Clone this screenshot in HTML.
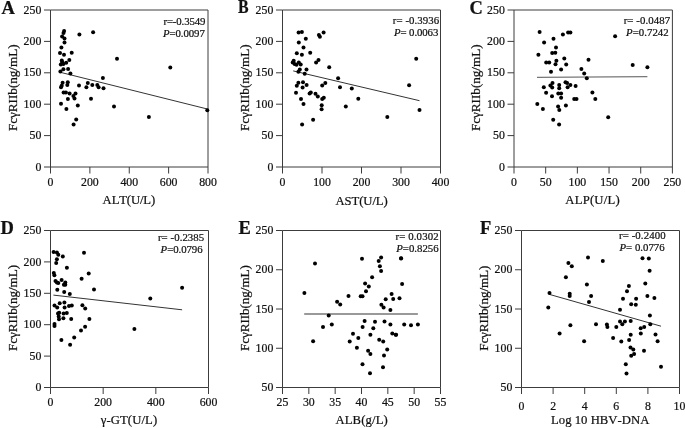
<!DOCTYPE html>
<html><head><meta charset="utf-8"><style>
html,body{margin:0;padding:0;background:#fff;width:685px;height:428px;overflow:hidden}
svg{display:block;will-change:transform}
text{font-family:"Liberation Serif", serif;fill:#111;stroke:#111;stroke-width:0.22px;font-kerning:none}
</style></head><body>
<svg width="685" height="428" viewBox="0 0 685 428">
<path d="M50.5 10H208V167" fill="none" stroke="#3c3c3c" stroke-width="1.0"/>
<path d="M50.5 10V167H208" fill="none" stroke="#3c3c3c" stroke-width="1.0"/>
<path d="M44 167H50.5M44 135.6H50.5M44 104.2H50.5M44 72.8H50.5M44 41.4H50.5M44 10H50.5M50.5 167V173.5M89.88 167V173.5M129.25 167V173.5M168.62 167V173.5M208 167V173.5" stroke="#3c3c3c" stroke-width="1.0"/>
<text x="41.3" y="170.6" text-anchor="end" font-size="11.8">0</text>
<text x="41.3" y="139.2" text-anchor="end" font-size="11.8">50</text>
<text x="41.3" y="107.8" text-anchor="end" font-size="11.8">100</text>
<text x="41.3" y="76.4" text-anchor="end" font-size="11.8">150</text>
<text x="41.3" y="45" text-anchor="end" font-size="11.8">200</text>
<text x="41.3" y="13.6" text-anchor="end" font-size="11.8">250</text>
<text x="50.5" y="186" text-anchor="middle" font-size="11.8">0</text>
<text x="89.88" y="186" text-anchor="middle" font-size="11.8">200</text>
<text x="129.25" y="186" text-anchor="middle" font-size="11.8">400</text>
<text x="168.62" y="186" text-anchor="middle" font-size="11.8">600</text>
<text x="208" y="186" text-anchor="middle" font-size="11.8">800</text>
<text x="1.5" y="14" font-size="18.5" font-weight="bold">A</text>
<text id="yA" transform="translate(12.3 87.7) rotate(-90)" x="0" y="0" dy="0.33em" text-anchor="middle" font-size="13.2" textLength="86.74" lengthAdjust="spacing">FcγRIIb(ng/mL)</text>
<text id="xA" x="128.9" y="204" text-anchor="middle" font-size="12.7" textLength="52.59" lengthAdjust="spacing">ALT(U/L)</text>
<text id="rA" x="205.4" y="25" text-anchor="end" font-size="10.8" textLength="41.98" lengthAdjust="spacing">r=-0.3549</text>
<text id="pA" x="204.8" y="36.8" text-anchor="end" font-size="10.8" textLength="41.79" lengthAdjust="spacing"><tspan font-style="italic">P</tspan>=0.0097</text>
<path d="M60.3 72.3L207.3 109" stroke="#333" stroke-width="1"/>
<g fill="#000"><circle cx="64.1" cy="31" r="2.0"/><circle cx="63.5" cy="33" r="2.0"/><circle cx="62.1" cy="36.4" r="2.0"/><circle cx="64.5" cy="38.5" r="2.0"/><circle cx="64.5" cy="42.4" r="2.0"/><circle cx="79.4" cy="34.5" r="2.0"/><circle cx="93.1" cy="32.3" r="2.0"/><circle cx="61.4" cy="47.4" r="2.0"/><circle cx="60" cy="53" r="2.0"/><circle cx="64" cy="54.8" r="2.0"/><circle cx="71.7" cy="52.7" r="2.0"/><circle cx="117" cy="58.8" r="2.0"/><circle cx="61.8" cy="60.6" r="2.0"/><circle cx="69.3" cy="59.9" r="2.0"/><circle cx="60.8" cy="64.6" r="2.0"/><circle cx="63.4" cy="64" r="2.0"/><circle cx="66.2" cy="62.7" r="2.0"/><circle cx="62.3" cy="62.2" r="2.0"/><circle cx="63.4" cy="69.3" r="2.0"/><circle cx="68.1" cy="69" r="2.0"/><circle cx="60.4" cy="71.6" r="2.0"/><circle cx="70.4" cy="73.5" r="2.0"/><circle cx="62.6" cy="82.8" r="2.0"/><circle cx="67.8" cy="82.3" r="2.0"/><circle cx="61.7" cy="85.8" r="2.0"/><circle cx="61" cy="87.2" r="2.0"/><circle cx="67.3" cy="85.1" r="2.0"/><circle cx="79" cy="85.4" r="2.0"/><circle cx="87.8" cy="83" r="2.0"/><circle cx="86.4" cy="87.3" r="2.0"/><circle cx="63.6" cy="92.6" r="2.0"/><circle cx="65.9" cy="92.6" r="2.0"/><circle cx="69.6" cy="93.5" r="2.0"/><circle cx="75.5" cy="93.5" r="2.0"/><circle cx="73.4" cy="96.1" r="2.0"/><circle cx="74.5" cy="98.6" r="2.0"/><circle cx="67.9" cy="98.9" r="2.0"/><circle cx="61" cy="103.8" r="2.0"/><circle cx="77.8" cy="105.4" r="2.0"/><circle cx="66.4" cy="108.9" r="2.0"/><circle cx="76.2" cy="119.6" r="2.0"/><circle cx="73.6" cy="124.4" r="2.0"/><circle cx="91" cy="98.8" r="2.0"/><circle cx="102.9" cy="78.1" r="2.0"/><circle cx="92.3" cy="85.1" r="2.0"/><circle cx="97.3" cy="85.1" r="2.0"/><circle cx="98.6" cy="87.3" r="2.0"/><circle cx="103.5" cy="88.2" r="2.0"/><circle cx="114" cy="106.5" r="2.0"/><circle cx="148.9" cy="117.1" r="2.0"/><circle cx="207.3" cy="110.2" r="2.0"/><circle cx="170.3" cy="67.6" r="2.0"/></g>
<path d="M282.5 10H440.5V167" fill="none" stroke="#3c3c3c" stroke-width="1.0"/>
<path d="M282.5 10V167H440.5" fill="none" stroke="#3c3c3c" stroke-width="1.0"/>
<path d="M276 167H282.5M276 135.6H282.5M276 104.2H282.5M276 72.8H282.5M276 41.4H282.5M276 10H282.5M282.5 167V173.5M322 167V173.5M361.5 167V173.5M401 167V173.5M440.5 167V173.5" stroke="#3c3c3c" stroke-width="1.0"/>
<text x="273.3" y="170.6" text-anchor="end" font-size="11.8">0</text>
<text x="273.3" y="139.2" text-anchor="end" font-size="11.8">50</text>
<text x="273.3" y="107.8" text-anchor="end" font-size="11.8">100</text>
<text x="273.3" y="76.4" text-anchor="end" font-size="11.8">150</text>
<text x="273.3" y="45" text-anchor="end" font-size="11.8">200</text>
<text x="273.3" y="13.6" text-anchor="end" font-size="11.8">250</text>
<text x="282.5" y="186" text-anchor="middle" font-size="11.8">0</text>
<text x="322" y="186" text-anchor="middle" font-size="11.8">100</text>
<text x="361.5" y="186" text-anchor="middle" font-size="11.8">200</text>
<text x="401" y="186" text-anchor="middle" font-size="11.8">300</text>
<text x="440.5" y="186" text-anchor="middle" font-size="11.8">400</text>
<text x="238" y="13.4" font-size="18" font-weight="bold" textLength="10.6" lengthAdjust="spacingAndGlyphs">B</text>
<text id="yB" transform="translate(244.3 87.7) rotate(-90)" x="0" y="0" dy="0.33em" text-anchor="middle" font-size="13.2" textLength="86.74" lengthAdjust="spacing">FcγRIIb(ng/mL)</text>
<text id="xB" x="361.6" y="205" text-anchor="middle" font-size="12.7" textLength="52.26" lengthAdjust="spacing">AST(U/L)</text>
<text id="rB" x="439.1" y="24.1" text-anchor="end" font-size="10.8" textLength="46.27" lengthAdjust="spacing">r= -0.3936</text>
<text id="pB" x="438.3" y="35.8" text-anchor="end" font-size="10.8" textLength="44.29" lengthAdjust="spacing"><tspan font-style="italic">P</tspan>= 0.0063</text>
<path d="M293.2 70.9L419.5 100.7" stroke="#333" stroke-width="1"/>
<g fill="#000"><circle cx="298.6" cy="32.6" r="2.0"/><circle cx="301.9" cy="31.9" r="2.0"/><circle cx="318.9" cy="35" r="2.0"/><circle cx="319.9" cy="36.8" r="2.0"/><circle cx="323.6" cy="32.4" r="2.0"/><circle cx="305.8" cy="38.7" r="2.0"/><circle cx="298.8" cy="42.4" r="2.0"/><circle cx="303.5" cy="47.6" r="2.0"/><circle cx="296.8" cy="53.2" r="2.0"/><circle cx="301.9" cy="54.8" r="2.0"/><circle cx="310.2" cy="52.7" r="2.0"/><circle cx="318.5" cy="60.1" r="2.0"/><circle cx="316.1" cy="62.5" r="2.0"/><circle cx="293.7" cy="60.8" r="2.0"/><circle cx="292.7" cy="62.5" r="2.0"/><circle cx="294.6" cy="63.9" r="2.0"/><circle cx="296.5" cy="64.8" r="2.0"/><circle cx="298.8" cy="62.5" r="2.0"/><circle cx="300.7" cy="64.6" r="2.0"/><circle cx="299.8" cy="69.5" r="2.0"/><circle cx="298.4" cy="71.8" r="2.0"/><circle cx="306.5" cy="69.5" r="2.0"/><circle cx="304.7" cy="73.7" r="2.0"/><circle cx="298.4" cy="82.8" r="2.0"/><circle cx="296.8" cy="85.8" r="2.0"/><circle cx="303" cy="82.3" r="2.0"/><circle cx="306.6" cy="85.1" r="2.0"/><circle cx="302.6" cy="87.5" r="2.0"/><circle cx="296" cy="92.7" r="2.0"/><circle cx="309.6" cy="93.6" r="2.0"/><circle cx="310.8" cy="92.6" r="2.0"/><circle cx="315.5" cy="93.7" r="2.0"/><circle cx="317.8" cy="96.4" r="2.0"/><circle cx="323.8" cy="97.7" r="2.0"/><circle cx="322.2" cy="98.9" r="2.0"/><circle cx="301" cy="98.9" r="2.0"/><circle cx="303.5" cy="104" r="2.0"/><circle cx="321.7" cy="105.2" r="2.0"/><circle cx="321.6" cy="109.2" r="2.0"/><circle cx="313.1" cy="119.7" r="2.0"/><circle cx="302.1" cy="124.5" r="2.0"/><circle cx="329.2" cy="67.3" r="2.0"/><circle cx="338.1" cy="78.2" r="2.0"/><circle cx="325.3" cy="83" r="2.0"/><circle cx="322.2" cy="85.4" r="2.0"/><circle cx="340" cy="87.2" r="2.0"/><circle cx="351.8" cy="88.4" r="2.0"/><circle cx="345.8" cy="106.6" r="2.0"/><circle cx="358.3" cy="98.8" r="2.0"/><circle cx="387.3" cy="117.1" r="2.0"/><circle cx="419.5" cy="110" r="2.0"/><circle cx="409.1" cy="85.2" r="2.0"/><circle cx="416.2" cy="58.8" r="2.0"/></g>
<path d="M514 10H672.4V167" fill="none" stroke="#3c3c3c" stroke-width="1.0"/>
<path d="M514 10V167H672.4" fill="none" stroke="#3c3c3c" stroke-width="1.0"/>
<path d="M507.5 167H514M507.5 135.6H514M507.5 104.2H514M507.5 72.8H514M507.5 41.4H514M507.5 10H514M514 167V173.5M545.68 167V173.5M577.36 167V173.5M609.04 167V173.5M640.72 167V173.5M672.4 167V173.5" stroke="#3c3c3c" stroke-width="1.0"/>
<text x="504.8" y="170.6" text-anchor="end" font-size="11.8">0</text>
<text x="504.8" y="139.2" text-anchor="end" font-size="11.8">50</text>
<text x="504.8" y="107.8" text-anchor="end" font-size="11.8">100</text>
<text x="504.8" y="76.4" text-anchor="end" font-size="11.8">150</text>
<text x="504.8" y="45" text-anchor="end" font-size="11.8">200</text>
<text x="504.8" y="13.6" text-anchor="end" font-size="11.8">250</text>
<text x="514" y="186" text-anchor="middle" font-size="11.8">0</text>
<text x="545.68" y="186" text-anchor="middle" font-size="11.8">50</text>
<text x="577.36" y="186" text-anchor="middle" font-size="11.8">100</text>
<text x="609.04" y="186" text-anchor="middle" font-size="11.8">150</text>
<text x="640.72" y="186" text-anchor="middle" font-size="11.8">200</text>
<text x="672.4" y="186" text-anchor="middle" font-size="11.8">250</text>
<text x="469.5" y="14" font-size="18.5" font-weight="bold">C</text>
<text id="yC" transform="translate(476 87.7) rotate(-90)" x="0" y="0" dy="0.33em" text-anchor="middle" font-size="13.2" textLength="86.74" lengthAdjust="spacing">FcγRIIb(ng/mL)</text>
<text id="xC" x="592.5" y="204" text-anchor="middle" font-size="12.7" textLength="54.46" lengthAdjust="spacing">ALP(U/L)</text>
<text id="rC" x="670.1" y="24" text-anchor="end" font-size="10.8" textLength="46.47" lengthAdjust="spacing">r= -0.0487</text>
<text id="pC" x="668.7" y="35.8" text-anchor="end" font-size="10.8" textLength="42.59" lengthAdjust="spacing"><tspan font-style="italic">P</tspan>=0.7242</text>
<path d="M537 77.4L647.4 76.7" stroke="#777" stroke-width="1.3"/>
<g fill="#000"><circle cx="539.6" cy="31.9" r="2.0"/><circle cx="553.5" cy="38.7" r="2.0"/><circle cx="544.1" cy="42.4" r="2.0"/><circle cx="556" cy="47.4" r="2.0"/><circle cx="552.2" cy="53" r="2.0"/><circle cx="555.3" cy="52.7" r="2.0"/><circle cx="538.4" cy="54.8" r="2.0"/><circle cx="556.4" cy="60.8" r="2.0"/><circle cx="562.9" cy="34.5" r="2.0"/><circle cx="568.1" cy="32.4" r="2.0"/><circle cx="570.4" cy="32.4" r="2.0"/><circle cx="564.3" cy="58.5" r="2.0"/><circle cx="588.5" cy="59.8" r="2.0"/><circle cx="546.2" cy="62.5" r="2.0"/><circle cx="549.2" cy="62.5" r="2.0"/><circle cx="555.5" cy="64.3" r="2.0"/><circle cx="551" cy="71.8" r="2.0"/><circle cx="552.5" cy="82.9" r="2.0"/><circle cx="550.4" cy="85.4" r="2.0"/><circle cx="552.2" cy="87.5" r="2.0"/><circle cx="543.8" cy="87.2" r="2.0"/><circle cx="546.1" cy="92.7" r="2.0"/><circle cx="558.3" cy="93.4" r="2.0"/><circle cx="566.2" cy="64.6" r="2.0"/><circle cx="561.1" cy="69.5" r="2.0"/><circle cx="581.4" cy="69" r="2.0"/><circle cx="584.2" cy="73.5" r="2.0"/><circle cx="586.8" cy="78.2" r="2.0"/><circle cx="565.5" cy="82.3" r="2.0"/><circle cx="567.1" cy="83" r="2.0"/><circle cx="570.4" cy="85.1" r="2.0"/><circle cx="575.6" cy="86" r="2.0"/><circle cx="567.6" cy="87.2" r="2.0"/><circle cx="559.2" cy="85.1" r="2.0"/><circle cx="559.2" cy="88.2" r="2.0"/><circle cx="561.1" cy="93.4" r="2.0"/><circle cx="592.4" cy="92.6" r="2.0"/><circle cx="552" cy="96.3" r="2.0"/><circle cx="537.3" cy="104" r="2.0"/><circle cx="542.9" cy="109" r="2.0"/><circle cx="558.1" cy="106.6" r="2.0"/><circle cx="559.3" cy="110.1" r="2.0"/><circle cx="553.2" cy="119.7" r="2.0"/><circle cx="559.1" cy="124.4" r="2.0"/><circle cx="561.1" cy="97.7" r="2.0"/><circle cx="574.2" cy="98.9" r="2.0"/><circle cx="576.5" cy="98.9" r="2.0"/><circle cx="595.3" cy="98.9" r="2.0"/><circle cx="565.9" cy="105.4" r="2.0"/><circle cx="615.1" cy="36.3" r="2.0"/><circle cx="632.7" cy="65.1" r="2.0"/><circle cx="647.4" cy="67.2" r="2.0"/><circle cx="608.2" cy="117.2" r="2.0"/></g>
<path d="M50.5 230.5H208.5V387.5" fill="none" stroke="#3c3c3c" stroke-width="1.0"/>
<path d="M50.5 230.5V387.5H208.5" fill="none" stroke="#3c3c3c" stroke-width="1.0"/>
<path d="M44 387.5H50.5M44 356.1H50.5M44 324.7H50.5M44 293.3H50.5M44 261.9H50.5M44 230.5H50.5M50.5 387.5V394M103.17 387.5V394M155.83 387.5V394M208.5 387.5V394" stroke="#3c3c3c" stroke-width="1.0"/>
<text x="41.3" y="391.1" text-anchor="end" font-size="11.8">0</text>
<text x="41.3" y="359.7" text-anchor="end" font-size="11.8">50</text>
<text x="41.3" y="328.3" text-anchor="end" font-size="11.8">100</text>
<text x="41.3" y="296.9" text-anchor="end" font-size="11.8">150</text>
<text x="41.3" y="265.5" text-anchor="end" font-size="11.8">200</text>
<text x="41.3" y="234.1" text-anchor="end" font-size="11.8">250</text>
<text x="50.5" y="406" text-anchor="middle" font-size="11.8">0</text>
<text x="103.17" y="406" text-anchor="middle" font-size="11.8">200</text>
<text x="155.83" y="406" text-anchor="middle" font-size="11.8">400</text>
<text x="208.5" y="406" text-anchor="middle" font-size="11.8">600</text>
<text x="0.5" y="234" font-size="18.5" font-weight="bold">D</text>
<text id="yD" transform="translate(12.3 307.9) rotate(-90)" x="0" y="0" dy="0.33em" text-anchor="middle" font-size="13.2" textLength="86.14" lengthAdjust="spacing">FcγRIIb(ng/mL)</text>
<text id="xD" x="128.9" y="423.9" text-anchor="middle" font-size="12.7" textLength="56.44" lengthAdjust="spacing">γ-GT(U/L)</text>
<text id="rD" x="204.2" y="241.2" text-anchor="end" font-size="10.8" textLength="46.27" lengthAdjust="spacing">r= -0.2385</text>
<text id="pD" x="202.6" y="252.9" text-anchor="end" font-size="10.8" textLength="41.99" lengthAdjust="spacing"><tspan font-style="italic">P</tspan>=0.0796</text>
<path d="M53.4 295.1L182.1 309.8" stroke="#333" stroke-width="1"/>
<g fill="#000"><circle cx="53.6" cy="252" r="2.0"/><circle cx="56.9" cy="252.6" r="2.0"/><circle cx="58.3" cy="254.8" r="2.0"/><circle cx="62.8" cy="256.6" r="2.0"/><circle cx="56.9" cy="259.2" r="2.0"/><circle cx="56.2" cy="262.9" r="2.0"/><circle cx="84" cy="252.8" r="2.0"/><circle cx="66.9" cy="267.8" r="2.0"/><circle cx="53.8" cy="272.9" r="2.0"/><circle cx="54.4" cy="275.2" r="2.0"/><circle cx="88.7" cy="273.4" r="2.0"/><circle cx="81.6" cy="278.8" r="2.0"/><circle cx="61.6" cy="280" r="2.0"/><circle cx="55.5" cy="281.1" r="2.0"/><circle cx="56.9" cy="282.5" r="2.0"/><circle cx="58.3" cy="282.9" r="2.0"/><circle cx="65.3" cy="282.5" r="2.0"/><circle cx="63.9" cy="284.8" r="2.0"/><circle cx="65.3" cy="284.8" r="2.0"/><circle cx="57.3" cy="289.7" r="2.0"/><circle cx="64.2" cy="292" r="2.0"/><circle cx="69.8" cy="293.9" r="2.0"/><circle cx="94" cy="289.4" r="2.0"/><circle cx="59.7" cy="303.2" r="2.0"/><circle cx="64.4" cy="302.6" r="2.0"/><circle cx="54.5" cy="305.4" r="2.0"/><circle cx="57.2" cy="307.5" r="2.0"/><circle cx="64.6" cy="307.5" r="2.0"/><circle cx="69" cy="306" r="2.0"/><circle cx="71.8" cy="305.4" r="2.0"/><circle cx="82.4" cy="305.3" r="2.0"/><circle cx="85.2" cy="308.5" r="2.0"/><circle cx="58" cy="313.5" r="2.0"/><circle cx="59.2" cy="312.8" r="2.0"/><circle cx="63.6" cy="313.5" r="2.0"/><circle cx="66.8" cy="313" r="2.0"/><circle cx="58.7" cy="316.5" r="2.0"/><circle cx="59" cy="319.2" r="2.0"/><circle cx="63.4" cy="318.2" r="2.0"/><circle cx="71.2" cy="319.1" r="2.0"/><circle cx="54.5" cy="324" r="2.0"/><circle cx="54.5" cy="325.9" r="2.0"/><circle cx="89.4" cy="319.1" r="2.0"/><circle cx="85.1" cy="326.8" r="2.0"/><circle cx="81" cy="330.5" r="2.0"/><circle cx="74.2" cy="337.4" r="2.0"/><circle cx="61.4" cy="339.9" r="2.0"/><circle cx="70.1" cy="344.8" r="2.0"/><circle cx="134.4" cy="329.1" r="2.0"/><circle cx="182.1" cy="287.7" r="2.0"/><circle cx="150.3" cy="298.5" r="2.0"/></g>
<path d="M282.5 230.5H440.5V387.5" fill="none" stroke="#3c3c3c" stroke-width="1.0"/>
<path d="M282.5 230.5V387.5H440.5" fill="none" stroke="#3c3c3c" stroke-width="1.0"/>
<path d="M276 387.5H282.5M276 348.25H282.5M276 309H282.5M276 269.75H282.5M276 230.5H282.5M282.5 387.5V394M308.83 387.5V394M335.17 387.5V394M361.5 387.5V394M387.83 387.5V394M414.17 387.5V394M440.5 387.5V394" stroke="#3c3c3c" stroke-width="1.0"/>
<text x="273.3" y="391.1" text-anchor="end" font-size="11.8">50</text>
<text x="273.3" y="351.85" text-anchor="end" font-size="11.8">100</text>
<text x="273.3" y="312.6" text-anchor="end" font-size="11.8">150</text>
<text x="273.3" y="273.35" text-anchor="end" font-size="11.8">200</text>
<text x="273.3" y="234.1" text-anchor="end" font-size="11.8">250</text>
<text x="282.5" y="406.3" text-anchor="middle" font-size="11.8">25</text>
<text x="308.83" y="406.3" text-anchor="middle" font-size="11.8">30</text>
<text x="335.17" y="406.3" text-anchor="middle" font-size="11.8">35</text>
<text x="361.5" y="406.3" text-anchor="middle" font-size="11.8">40</text>
<text x="387.83" y="406.3" text-anchor="middle" font-size="11.8">45</text>
<text x="414.17" y="406.3" text-anchor="middle" font-size="11.8">50</text>
<text x="440.5" y="406.3" text-anchor="middle" font-size="11.8">55</text>
<text x="238.5" y="234" font-size="18.5" font-weight="bold">E</text>
<text id="yE" transform="translate(244.3 308) rotate(-90)" x="0" y="0" dy="0.33em" text-anchor="middle" font-size="13.2" textLength="85.94" lengthAdjust="spacing">FcγRIIb(ng/mL)</text>
<text id="xE" x="361.6" y="424.3" text-anchor="middle" font-size="12.7" textLength="52.45" lengthAdjust="spacing">ALB(g/L)</text>
<text id="rE" x="438.6" y="240.1" text-anchor="end" font-size="10.8" textLength="43.08" lengthAdjust="spacing">r= 0.0302</text>
<text id="pE" x="438.6" y="252.3" text-anchor="end" font-size="10.8" textLength="42.39" lengthAdjust="spacing"><tspan font-style="italic">P</tspan>=0.8256</text>
<path d="M304.2 314L417.9 314" stroke="#777" stroke-width="1.3"/>
<g fill="#000"><circle cx="315" cy="263.4" r="2.0"/><circle cx="304.4" cy="293" r="2.0"/><circle cx="337.1" cy="301.7" r="2.0"/><circle cx="340.2" cy="304.4" r="2.0"/><circle cx="328.7" cy="315.6" r="2.0"/><circle cx="331.8" cy="324.5" r="2.0"/><circle cx="323" cy="327" r="2.0"/><circle cx="313.1" cy="341.3" r="2.0"/><circle cx="362" cy="258.7" r="2.0"/><circle cx="372.1" cy="277.2" r="2.0"/><circle cx="365.1" cy="283.5" r="2.0"/><circle cx="368.8" cy="286.4" r="2.0"/><circle cx="366" cy="291.2" r="2.0"/><circle cx="348.5" cy="295.9" r="2.0"/><circle cx="360.7" cy="296.2" r="2.0"/><circle cx="362.5" cy="296.2" r="2.0"/><circle cx="381.1" cy="257.4" r="2.0"/><circle cx="378.7" cy="261.1" r="2.0"/><circle cx="379.9" cy="266.3" r="2.0"/><circle cx="381.1" cy="271" r="2.0"/><circle cx="401" cy="258.5" r="2.0"/><circle cx="402.1" cy="284" r="2.0"/><circle cx="391.6" cy="294" r="2.0"/><circle cx="385.7" cy="299.2" r="2.0"/><circle cx="393.2" cy="298.9" r="2.0"/><circle cx="399.5" cy="298.2" r="2.0"/><circle cx="381.4" cy="304.8" r="2.0"/><circle cx="383.6" cy="307.6" r="2.0"/><circle cx="390.4" cy="309.9" r="2.0"/><circle cx="364.6" cy="320.9" r="2.0"/><circle cx="375" cy="321.7" r="2.0"/><circle cx="362.6" cy="327" r="2.0"/><circle cx="373.3" cy="328.3" r="2.0"/><circle cx="353" cy="333.7" r="2.0"/><circle cx="370.4" cy="334.8" r="2.0"/><circle cx="358.3" cy="338.1" r="2.0"/><circle cx="349.7" cy="341.4" r="2.0"/><circle cx="356.9" cy="347.7" r="2.0"/><circle cx="368.1" cy="350.8" r="2.0"/><circle cx="370.4" cy="354" r="2.0"/><circle cx="384.5" cy="321.4" r="2.0"/><circle cx="390.4" cy="324.6" r="2.0"/><circle cx="404.2" cy="324.4" r="2.0"/><circle cx="411" cy="325.3" r="2.0"/><circle cx="417.9" cy="324.6" r="2.0"/><circle cx="392.3" cy="333.5" r="2.0"/><circle cx="395.7" cy="334.8" r="2.0"/><circle cx="379.2" cy="339.8" r="2.0"/><circle cx="383.2" cy="341.4" r="2.0"/><circle cx="387.2" cy="349.6" r="2.0"/><circle cx="384" cy="355.6" r="2.0"/><circle cx="362.5" cy="364.2" r="2.0"/><circle cx="383" cy="367.2" r="2.0"/><circle cx="370" cy="373.3" r="2.0"/><circle cx="396.1" cy="334.7" r="2.0"/><circle cx="401.1" cy="258.3" r="2.0"/></g>
<path d="M521.5 230.5H679.5V387.5" fill="none" stroke="#3c3c3c" stroke-width="1.0"/>
<path d="M521.5 230.5V387.5H679.5" fill="none" stroke="#3c3c3c" stroke-width="1.0"/>
<path d="M515 387.5H521.5M515 348.25H521.5M515 309H521.5M515 269.75H521.5M515 230.5H521.5M521.5 387.5V394M553.1 387.5V394M584.7 387.5V394M616.3 387.5V394M647.9 387.5V394M679.5 387.5V394" stroke="#3c3c3c" stroke-width="1.0"/>
<text x="512.3" y="391.1" text-anchor="end" font-size="11.8">50</text>
<text x="512.3" y="351.85" text-anchor="end" font-size="11.8">100</text>
<text x="512.3" y="312.6" text-anchor="end" font-size="11.8">150</text>
<text x="512.3" y="273.35" text-anchor="end" font-size="11.8">200</text>
<text x="512.3" y="234.1" text-anchor="end" font-size="11.8">250</text>
<text x="521.5" y="409.6" text-anchor="middle" font-size="11.8">0</text>
<text x="553.1" y="409.6" text-anchor="middle" font-size="11.8">2</text>
<text x="584.7" y="409.6" text-anchor="middle" font-size="11.8">4</text>
<text x="616.3" y="409.6" text-anchor="middle" font-size="11.8">6</text>
<text x="647.9" y="409.6" text-anchor="middle" font-size="11.8">8</text>
<text x="679.5" y="409.6" text-anchor="middle" font-size="11.8">10</text>
<text x="480" y="233.5" font-size="18.5" font-weight="bold">F</text>
<text id="yF" transform="translate(484 308.2) rotate(-90)" x="0" y="0" dy="0.33em" text-anchor="middle" font-size="13.2" textLength="85.14" lengthAdjust="spacing">FcγRIIb(ng/mL)</text>
<text id="xF" x="600.2" y="424" text-anchor="middle" font-size="12.7" textLength="98.41" lengthAdjust="spacing">Log 10 HBV-DNA</text>
<text id="rF" x="665.6" y="238.9" text-anchor="end" font-size="10.8" textLength="46.67" lengthAdjust="spacing">r= -0.2400</text>
<text id="pF" x="664.6" y="251" text-anchor="end" font-size="10.8" textLength="45.09" lengthAdjust="spacing"><tspan font-style="italic">P</tspan>= 0.0776</text>
<path d="M549.1 294.3L661 326.2" stroke="#333" stroke-width="1"/>
<g fill="#000"><circle cx="568.4" cy="263.1" r="2.0"/><circle cx="571.8" cy="266.2" r="2.0"/><circle cx="565.9" cy="277.2" r="2.0"/><circle cx="549.5" cy="292.9" r="2.0"/><circle cx="569.7" cy="293.8" r="2.0"/><circle cx="569.7" cy="296" r="2.0"/><circle cx="548.3" cy="307.6" r="2.0"/><circle cx="570.4" cy="325.3" r="2.0"/><circle cx="559.6" cy="333.6" r="2.0"/><circle cx="588" cy="257.5" r="2.0"/><circle cx="602.8" cy="261" r="2.0"/><circle cx="586.9" cy="284.4" r="2.0"/><circle cx="591.1" cy="296" r="2.0"/><circle cx="589" cy="302.1" r="2.0"/><circle cx="596" cy="324.2" r="2.0"/><circle cx="606.9" cy="324.4" r="2.0"/><circle cx="607.4" cy="327" r="2.0"/><circle cx="616.3" cy="327.1" r="2.0"/><circle cx="613.1" cy="338" r="2.0"/><circle cx="584.1" cy="341.3" r="2.0"/><circle cx="642.5" cy="258.3" r="2.0"/><circle cx="648.8" cy="258.6" r="2.0"/><circle cx="649.6" cy="270.8" r="2.0"/><circle cx="645.3" cy="283.6" r="2.0"/><circle cx="628.9" cy="286" r="2.0"/><circle cx="627" cy="291.3" r="2.0"/><circle cx="623" cy="298.7" r="2.0"/><circle cx="636.1" cy="298.8" r="2.0"/><circle cx="631.2" cy="304.2" r="2.0"/><circle cx="635.8" cy="304.8" r="2.0"/><circle cx="647.4" cy="296" r="2.0"/><circle cx="654.4" cy="298" r="2.0"/><circle cx="620" cy="309.8" r="2.0"/><circle cx="649.9" cy="315.5" r="2.0"/><circle cx="620" cy="321.5" r="2.0"/><circle cx="624.9" cy="321.6" r="2.0"/><circle cx="622.3" cy="324.2" r="2.0"/><circle cx="630.7" cy="321" r="2.0"/><circle cx="650.3" cy="324.3" r="2.0"/><circle cx="644.2" cy="326.9" r="2.0"/><circle cx="640.7" cy="328.3" r="2.0"/><circle cx="640.8" cy="333.4" r="2.0"/><circle cx="630.7" cy="334.8" r="2.0"/><circle cx="621.3" cy="341.4" r="2.0"/><circle cx="629.1" cy="340" r="2.0"/><circle cx="630.5" cy="347.6" r="2.0"/><circle cx="633.3" cy="349.6" r="2.0"/><circle cx="644" cy="350.8" r="2.0"/><circle cx="634.1" cy="354.1" r="2.0"/><circle cx="631.2" cy="355.7" r="2.0"/><circle cx="625.8" cy="364.3" r="2.0"/><circle cx="626.5" cy="373.4" r="2.0"/><circle cx="655.5" cy="334.6" r="2.0"/><circle cx="657.6" cy="341.3" r="2.0"/><circle cx="661" cy="366.8" r="2.0"/></g>
</svg>
</body></html>
